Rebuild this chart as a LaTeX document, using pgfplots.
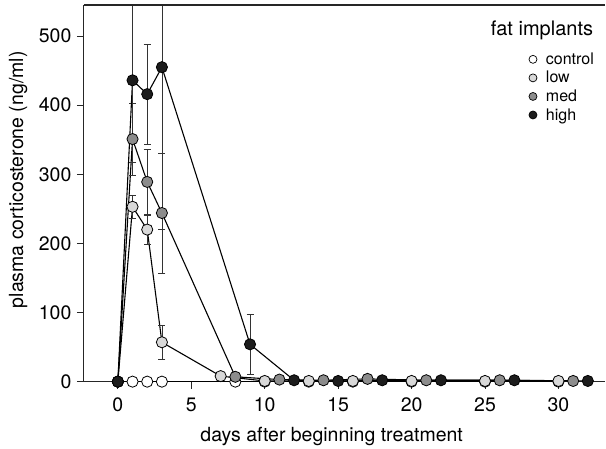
\documentclass[border=0pt]{standalone}
\usepackage{fontspec}
\setmainfont{TeX Gyre Heros}
\usepackage{pgfplots}
\pgfplotsset{compat=1.18}

\definecolor{lowfill}{HTML}{D8D8D8}
\definecolor{medfill}{HTML}{8C8C8C}
\definecolor{highfill}{HTML}{1C1C1C}

\begin{document}
\begin{tikzpicture}
\begin{axis}[
  scale only axis,
  width=522pt, height=377pt,
  xmin=-2.31, xmax=33.2, ymin=0, ymax=545,
  axis x line*=bottom, axis y line*=left,
  axis line style={line width=1.1pt, black!85},
  tick align=outside, major tick length=7pt,
  tick style={line width=0.9pt, black!85},
  xtick={0,5,...,30}, ytick={0,100,...,500},
  /pgf/number format/assume math mode=true,
  ticklabel style={font=\fontsize{19.5}{23}\selectfont},
  xticklabel style={yshift=-6pt},
  yticklabel style={xshift=-2pt},
  label style={font=\fontsize{19.5}{23}\selectfont},
  xlabel={days after beginning treatment},
  ylabel={plasma corticosterone (ng/ml)},
  xlabel style={at={(axis description cs:0.475,0)}, anchor=north, yshift=-42pt},
  ylabel style={at={(axis description cs:0,0.536)}, anchor=south, yshift=53pt},
  every axis plot/.append style={line width=1.1pt, black},
  mark size=5.6pt,
  legend style={draw=none, fill=none, at={(rel axis cs:0.853,0.879)}, anchor=north west,
    font=\fontsize{16}{18}\selectfont, row sep=1.4pt, inner sep=0pt,
    /tikz/every odd column/.append style={column sep=7pt}},
  legend cell align=left,
  legend image code/.code={\draw[#1] plot coordinates {(0pt,0pt)};},
]
\coordinate (tl) at (rel axis cs:0,1);
\coordinate (tr) at (rel axis cs:1,1);
\coordinate (bl) at (rel axis cs:0,0);

% control
\addplot[mark=*, mark options={fill=white, draw=black, line width=0.8pt}, forget plot]
  coordinates {(0,0) (1,0) (2,0) (3,0) (8,0) (10,0) (13,0) (16,0) (20,0) (25,0) (30,0)};
% low
\addplot[mark=*, mark options={fill=lowfill, draw=black, line width=0.8pt}, forget plot,
  error bars/.cd, y dir=both, y explicit,
  error bar style={line width=0.6pt, black!80},
  error mark options={rotate=90, mark size=3.5pt, line width=0.7pt, black!80}]
  coordinates {(0,0) +- (0,0) (1,253) +- (0,17) (2,220) +- (0,21) (3,57) +- (0,25)
    (7,8) +- (0,0) (10,1) +- (0,0) (13,1) +- (0,0) (16,1) +- (0,0) (20,1) +- (0,0)
    (25,1) +- (0,0) (30,1) +- (0,0)};
% med
\addplot[mark=*, mark options={fill=medfill, draw=black, line width=0.8pt}, forget plot,
  error bars/.cd, y dir=both, y explicit,
  error bar style={line width=0.6pt, black!80},
  error mark options={rotate=90, mark size=3.5pt, line width=0.7pt, black!80}]
  coordinates {(0,0) +- (0,0) (1,351) +- (0,52) (2,289) +- (0,47) (3,244) +- (0,87)
    (8,7) +- (0,0) (11,3) +- (0,0) (14,2) +- (0,0) (17,4) +- (0,0) (21,2) +- (0,0)
    (26,2) +- (0,0) (31,1) +- (0,0)};
% high
\addplot[mark=*, mark options={fill=highfill, draw=black, line width=0.8pt}, forget plot,
  error bars/.cd, y dir=both, y explicit,
  error bar style={line width=0.6pt, black!80},
  error mark options={rotate=90, mark size=3.5pt, line width=0.7pt, black!80}]
  coordinates {(0,0) +- (0,0) (1,436) +- (0,118) (2,416) +- (0,72) (3,455) +- (0,235)
    (9,54) +- (0,43) (12,2) +- (0,0) (15,1) +- (0,0) (18,2) +- (0,0) (22,2) +- (0,0)
    (27,2) +- (0,0) (32,1) +- (0,0)};

\addlegendimage{only marks, mark=*, mark size=4pt, mark options={fill=white, draw=black, line width=0.7pt}}
\addlegendentry{control}
\addlegendimage{only marks, mark=*, mark size=4pt, mark options={fill=lowfill, draw=black, line width=0.7pt}}
\addlegendentry{low}
\addlegendimage{only marks, mark=*, mark size=4pt, mark options={fill=medfill, draw=black, line width=0.7pt}}
\addlegendentry{med}
\addlegendimage{only marks, mark=*, mark size=4pt, mark options={fill=highfill, draw=black, line width=0.7pt}}
\addlegendentry{high}

\node[anchor=base east, font=\fontsize{20}{24}\selectfont] at (rel axis cs:0.983,0.920) {fat implants};
\end{axis}
\draw[line width=1.1pt, black!85] (tl) -- (tr);
\path ([xshift=-84pt,yshift=-66pt]bl) rectangle ([yshift=5pt]tr);
\end{tikzpicture}
\end{document}
